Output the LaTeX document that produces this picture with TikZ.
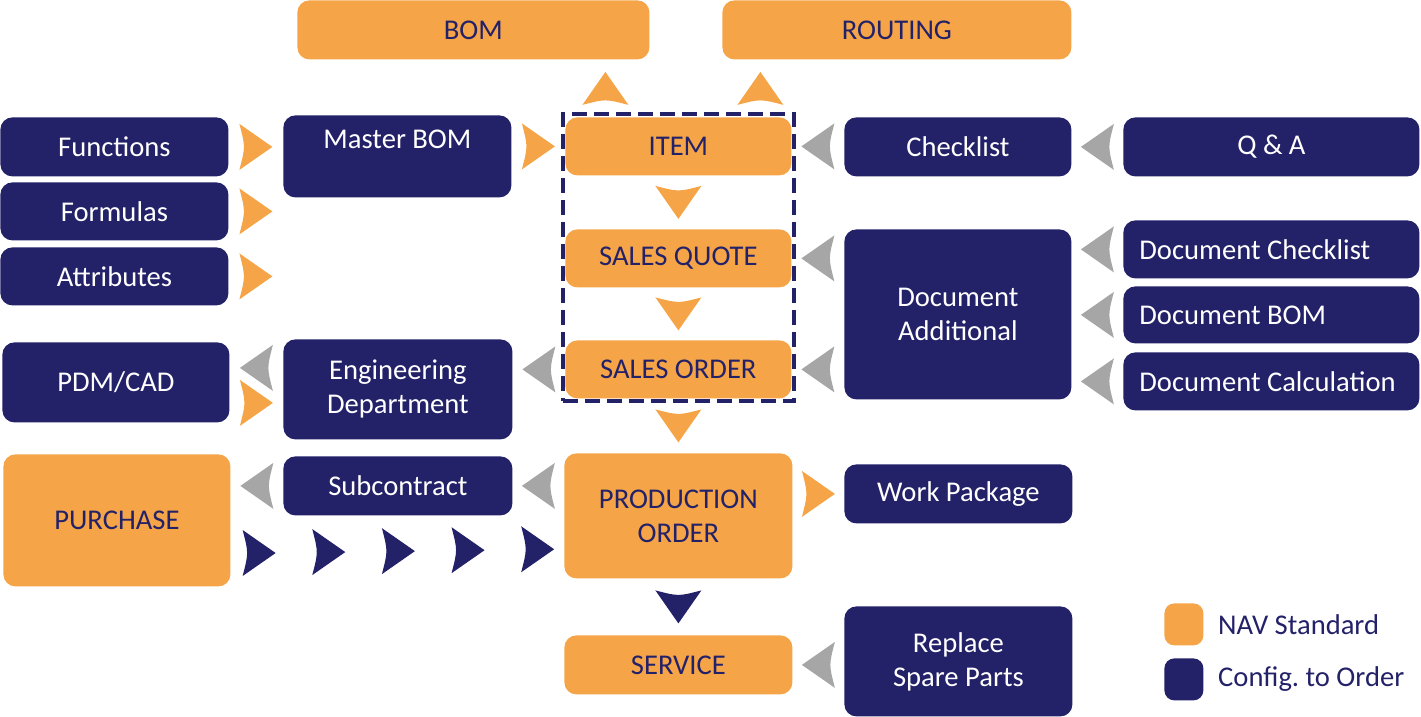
\documentclass[tikz,border=0pt]{standalone}
\usepackage{fontspec}
\setmainfont{Carlito}
\usetikzlibrary{calc,fit,positioning}

\definecolor{navy}{RGB}{35,33,104}
\definecolor{amber}{RGB}{245,165,72}
\definecolor{arrowgray}{RGB}{166,166,166}

\tikzset{
headshape/.pic={
  \fill[#1] (-16.5,-23) -- (16.5,0) -- (-16.5,23) .. controls (-10.5,0) .. (-16.5,-23) -- cycle;
  },
}

\begin{document}
\frenchspacing
\begin{tikzpicture}[
x=0.5pt,
y=-0.5pt,
txt/.style={
  font=\fontsize{14.3}{17}\selectfont
  },
box/.style={
  txt,
  rounded corners=6pt,
  anchor=north west,
  inner sep=0pt,
  align=center
  },
cfg/.style={box, fill=navy, text=white},
std/.style={box, fill=amber, text=navy},
doc/.style={cfg, align=flush left, text width=132pt, inner xsep=8pt},
wh/.style 2 args={
  minimum width=#1*0.5pt,
  minimum height=#2*0.5pt
  }
]
\useasboundingbox (0,0) rectangle (1421,717);

\node[std, wh={352}{59}] (bom) at (297,0) {BOM};
\node[std, wh={349}{59}] (rout) at (722,0) {ROUTING};
\node[cfg, wh={228}{59}] (fun) at (0,117) {Functions};
\node[cfg, wh={228}{58}] (form) at (0,182) {Formulas};
\node[cfg, wh={228}{58}] (attr) at (0,247) {Attributes};
\node[cfg, wh={227}{80}] (pdm) at (2,342) {PDM/CAD};
\node[std, wh={227}{132}] (purch) at (3,454) {PURCHASE};
\node[cfg, wh={228}{82}] (mbom) at (283,115) {Master BOM\\~};
\node[cfg, wh={229}{100}] (eng) at (283,339) {Engineering\\Department};
\node[cfg, wh={229}{59}] (sub) at (283,456) {Subcontract};
\node[std, wh={226}{58}] (item) at (565,117) {ITEM};
\node[std, wh={226}{58}] (quote) at (565,229) {SALES QUOTE};
\node[std, wh={226}{58}] (order) at (565,340) {SALES ORDER};
\node[std, wh={228}{125}] (prod) at (564,453) {PRODUCTION\\ORDER};
\node[std, wh={228}{59}] (serv) at (564,635) {SERVICE};
\node[cfg, wh={227}{59}] (check) at (844,117) {Checklist};
\node[cfg, wh={227}{170}] (docadd) at (844,229) {Document\\Additional};
\node[cfg, wh={228}{59}] (wp) at (844,464) {Work Package};
\node[cfg, wh={228}{110}] (repl) at (844,606) {Replace\\Spare Parts};
\node[cfg, wh={296}{59}] (qa) at (1123,117) {Q \& A};
\node[doc, wh={296}{58}] (dchk) at (1123,220) {Document Checklist};
\node[doc, wh={296}{57}] (dbom) at (1123,286) {Document BOM};
\node[doc, wh={296}{58}] (dcalc) at (1123,352) {Document Calculation};

% legend
\node[std, rounded corners=5pt, wh={39}{42}] (lstd) at (1164,603) {};
\node[cfg, rounded corners=5pt, wh={39}{42}] (lcfg) at (1164,658) {};
\node[txt, text=navy, inner sep=0pt, right=7pt of lstd] (lstdtext) {NAV Standard};
\node[txt, text=navy, inner sep=0pt, right=7pt of lcfg] (lcfgtext) {Config. to Order};

\node[fit=(item)(order), draw=navy, line width=2pt, dash pattern=on 7.5pt off 3.5pt,
  inner sep=1.25pt] (frame) {};

% arrow heads
\foreach \src in {fun,form,attr}
  \pic at ($(\src.east)!.5!(\src.east -| mbom.west)$) {headshape=amber};
\pic at ($(mbom.east |- item.west)!.5!(item.west)$) {headshape=amber};
\pic[rotate=90] at ($(item.north)!.5!(item.north |- bom.south)+(-73,0)$) {headshape=amber};
\pic[rotate=90] at ($(item.north)!.5!(item.north |- rout.south)+(82,0)$) {headshape=amber};
\foreach \a/\b in {item/quote,quote/order,order/prod}
  \pic[rotate=-90] at ($(\a.south)!.5!(\b.north)$) {headshape=amber};
\pic[rotate=-90] at ($(prod.south)!.5!(serv.north)$) {headshape=navy};
\pic at ($(wp.west)!.5!(wp.west -| prod.east)$) {headshape=amber};
\pic[rotate=180] at ($(pdm.east)!.5!(eng.west)+(0,-18)$) {headshape=arrowgray};
\pic at ($(pdm.east)!.5!(eng.west)+(0,17)$) {headshape=amber};
\foreach \a/\b in {check/item,docadd/quote,docadd/order,repl/serv,prod/sub}
  \pic[rotate=180] at ($(\b.east)!.5!(\b.east -| \a.west)$) {headshape=arrowgray};
\foreach \a/\b in {qa/check,dchk/docadd,dbom/docadd,dcalc/docadd,order/eng,sub/purch}
  \pic[rotate=180] at ($(\a.west)!.5!(\a.west -| \b.east)$) {headshape=arrowgray};
\foreach \f in {0.085,0.294,0.503,0.712,0.921}
  \pic at ($(purch.east)!\f!(prod.west)+(0,33)$) {headshape=navy};
\end{tikzpicture}
\end{document}
